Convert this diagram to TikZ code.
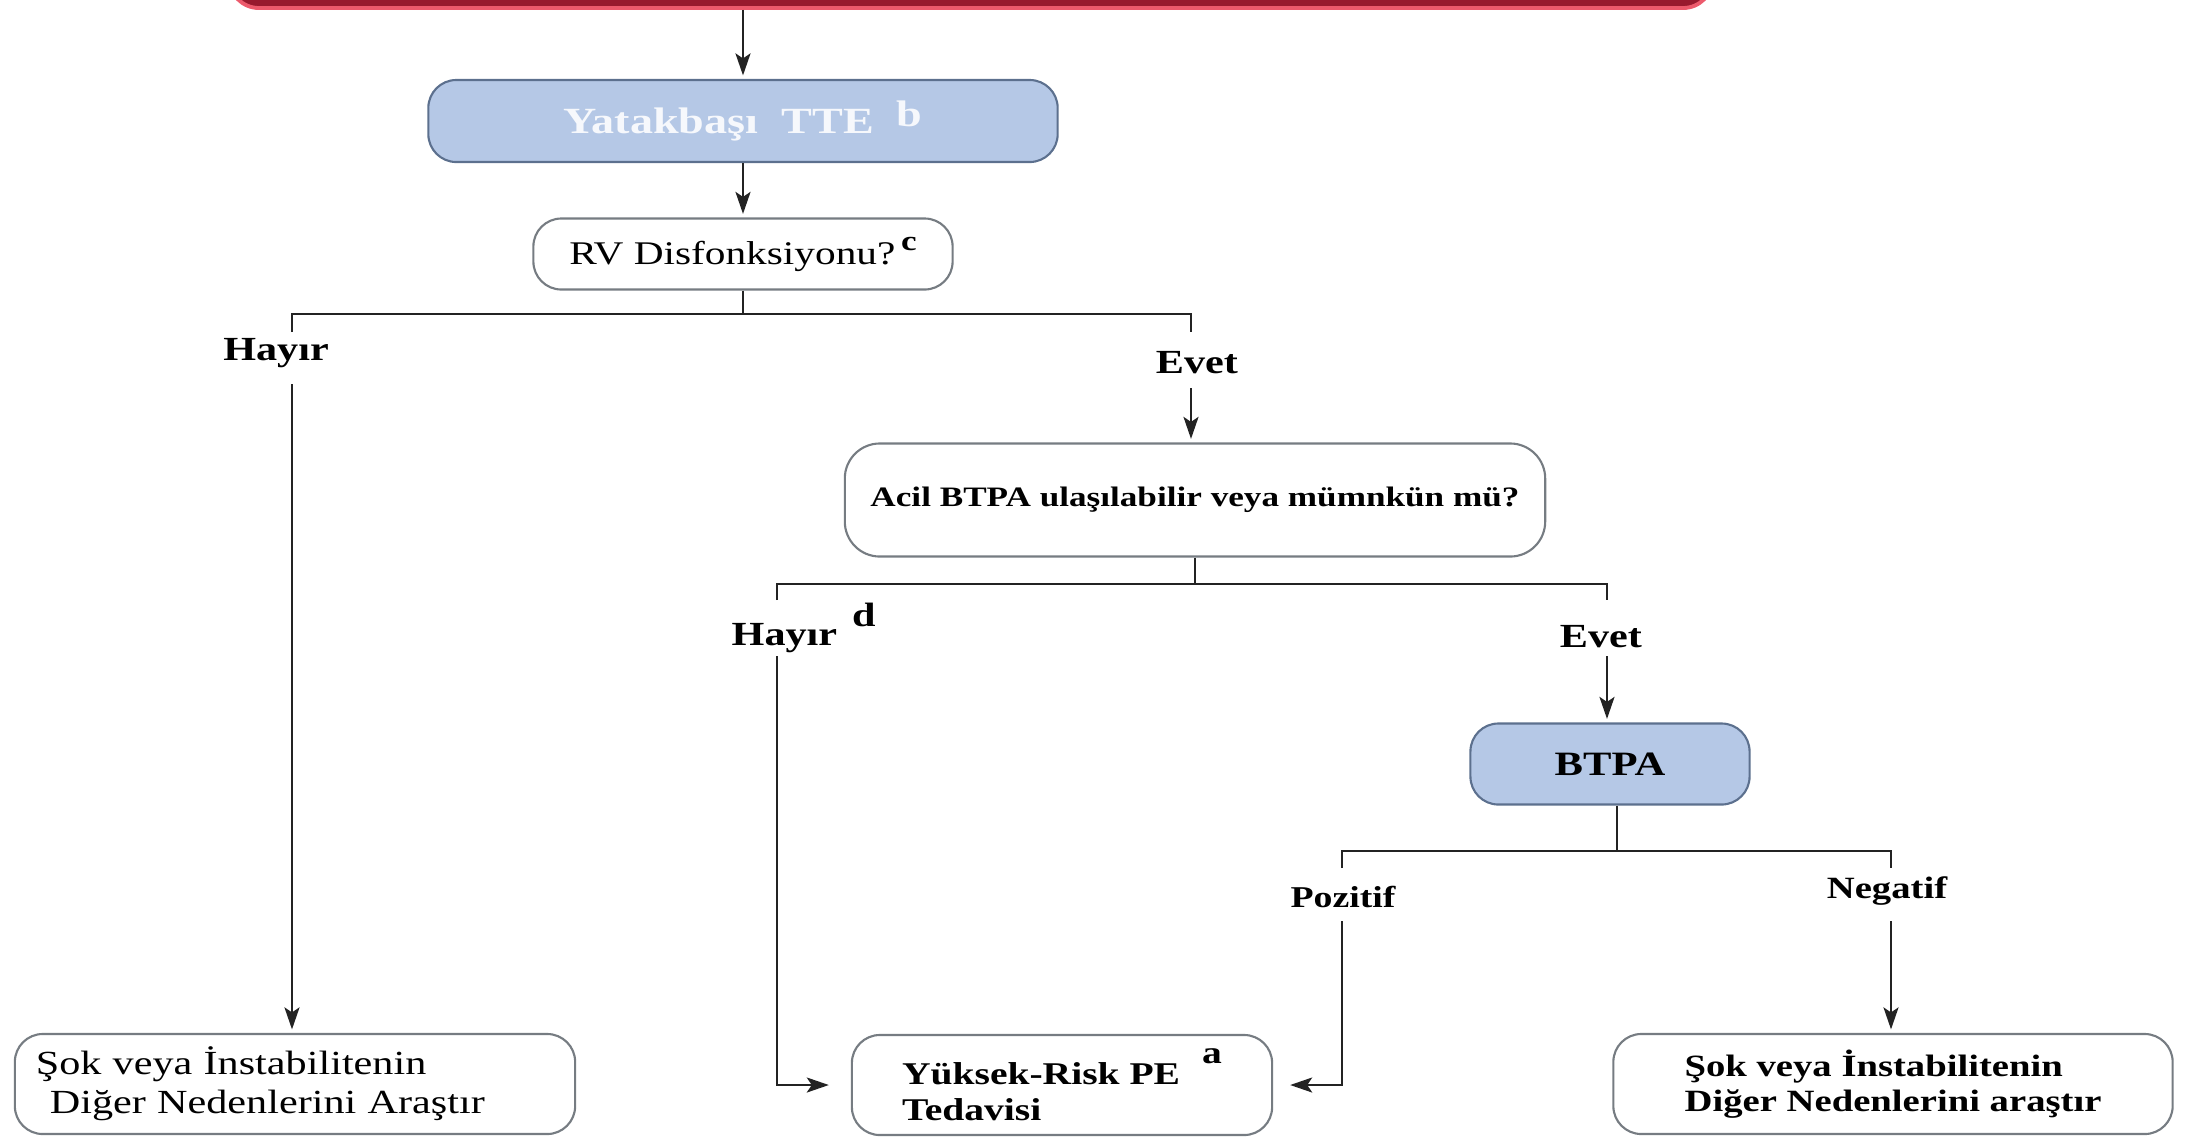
\documentclass[tikz,border=0pt]{standalone}
\usepackage{fontspec}
\setmainfont{Liberation Serif}[FakeStretch=1.25]
\usetikzlibrary{arrows.meta}

\definecolor{alertred}{RGB}{152,26,46}
\definecolor{alertglow}{RGB}{236,90,108}
\definecolor{boxblue}{RGB}{181,200,230}
\definecolor{boxblueedge}{RGB}{92,112,142}
\definecolor{boxedge}{RGB}{118,124,130}
\definecolor{ttetext}{RGB}{246,248,252}
\definecolor{lineclr}{RGB}{35,35,35}

\tikzset{
  box/.style={draw=boxedge, line width=0.6pt, fill=white, rounded corners=0.28cm, inner sep=0pt},
  bluebox/.style={box, fill=boxblue, draw=boxblueedge},
  lbl/.style={font=\fontsize{9.6}{11}\selectfont\bfseries, inner sep=0pt},
  conn/.style={draw=lineclr, line width=0.65pt},
  arr/.style={conn, -{Stealth[length=2.2mm, width=1.5mm, inset=0.5mm]}, shorten >=1pt},
}

\begin{document}
\begin{tikzpicture}[x=0.01cm, y=-0.01cm]
\useasboundingbox (0,0) rectangle (2187,1138);
\clip (0,0) rectangle (2187,1138);

% banner cut off at the top
\node[draw=alertglow, line width=1.1pt, fill=alertred, rounded corners=0.3cm,
      minimum width=14.83cm, minimum height=0.8cm] (alert) at (971,-32) {};

% boxes
\node[bluebox, minimum width=6.29cm, minimum height=0.82cm,
      font=\fontsize{10.5}{12}\selectfont\bfseries, text=ttetext] (tte) at (743,121)
      {\raisebox{2pt}{Yatakbaşı\ \ TTE\ \ \raisebox{2pt}{b}}};
\node[box, minimum width=4.19cm, minimum height=0.71cm,
      font=\fontsize{9.4}{11}\selectfont] (rv) at (743,254)
      {RV Disfonksiyonu?\,\raisebox{4pt}{\bfseries\fontsize{8}{9}\selectfont c}};
\node[box, minimum width=7cm, minimum height=1.13cm, rounded corners=0.35cm,
      font=\fontsize{8}{10}\selectfont\bfseries] (acil) at (1195,500)
      {Acil BTPA ulaşılabilir veya mümnkün mü?};
\node[bluebox, minimum width=2.79cm, minimum height=0.81cm,
      font=\fontsize{9.7}{11}\selectfont\bfseries] (btpa) at (1610,764) {BTPA};

\node[box, minimum width=5.6cm, minimum height=1cm, inner xsep=0.21cm,
      text width=5.18cm, align=left, font=\fontsize{9.6}{11}\selectfont] (sok1) at (295,1084)
      {Şok veya İnstabilitenin\\\hspace*{0.14cm}Diğer Nedenlerini Araştır};
\node[box, minimum width=4.2cm, minimum height=1cm, align=left,
      font=\fontsize{9}{10.2}\selectfont\bfseries] (yuksek) at (1062,1085)
      {Yüksek-Risk PE\hspace{0.22cm}\raisebox{6pt}{a}\\Tedavisi};
\node[box, minimum width=5.59cm, minimum height=1cm, align=left,
      font=\fontsize{8.8}{10}\selectfont\bfseries] (sok2) at (1893,1084)
      {Şok veya İnstabilitenin\\Diğer Nedenlerini araştır};

% labels
\node[lbl] (hayir1) at (276,353) {Hayır};
\node[lbl] (evet1) at (1197,363) {Evet};
\node[lbl, anchor=west] (hayir2) at (731,628) {Hayır\hspace{0.15cm}\raisebox{5.5pt}{d}};
\node[lbl] (evet2) at (1601,637) {Evet};
\node[lbl, font=\fontsize{8.6}{10}\selectfont\bfseries] (pozitif) at (1343,897) {Pozitif};
\node[lbl, font=\fontsize{8.8}{10}\selectfont\bfseries] (negatif) at (1887,891) {Negatif};

% top chain
\draw[arr] (tte.north |- alert.south) -- (tte.north);
\draw[arr] (tte.south) -- (rv.north);

% first fork
\coordinate (f1) at (743,314);
\coordinate (f1l) at (292,332);
\coordinate (f1r) at (1191,332);
\draw[conn] (rv.south) -- (f1);
\draw[conn] (f1l) |- (f1) -| (f1r);
\coordinate (h1) at (292,384);
\draw[arr] (h1) -- (h1 |- sok1.north);
\coordinate (e1) at (1191,388);
\draw[arr] (e1) -- (e1 |- acil.north);

% second fork
\coordinate (f2) at (1195,584);
\coordinate (f2l) at (777,600);
\coordinate (f2r) at (1607,600);
\draw[conn] (acil.south) -- (f2);
\draw[conn] (f2l) |- (f2) -| (f2r);
\coordinate (h2) at (777,656);
\draw[arr, shorten >=0.22cm] (h2) |- (yuksek.west);
\coordinate (e2) at (1607,656);
\draw[arr] (e2) -- (e2 |- btpa.north);

% third fork
\coordinate (f3) at (1617,851);
\coordinate (f3l) at (1342,868);
\coordinate (f3r) at (1891,868);
\draw[conn] (f3 |- btpa.south) -- (f3);
\draw[conn] (f3l) |- (f3) -| (f3r);
\coordinate (p1) at (1342,921);
\draw[arr, shorten >=0.17cm] (p1) |- (yuksek.east);
\coordinate (n1) at (1891,921);
\draw[arr] (n1) -- (n1 |- sok2.north);
\end{tikzpicture}
\end{document}
